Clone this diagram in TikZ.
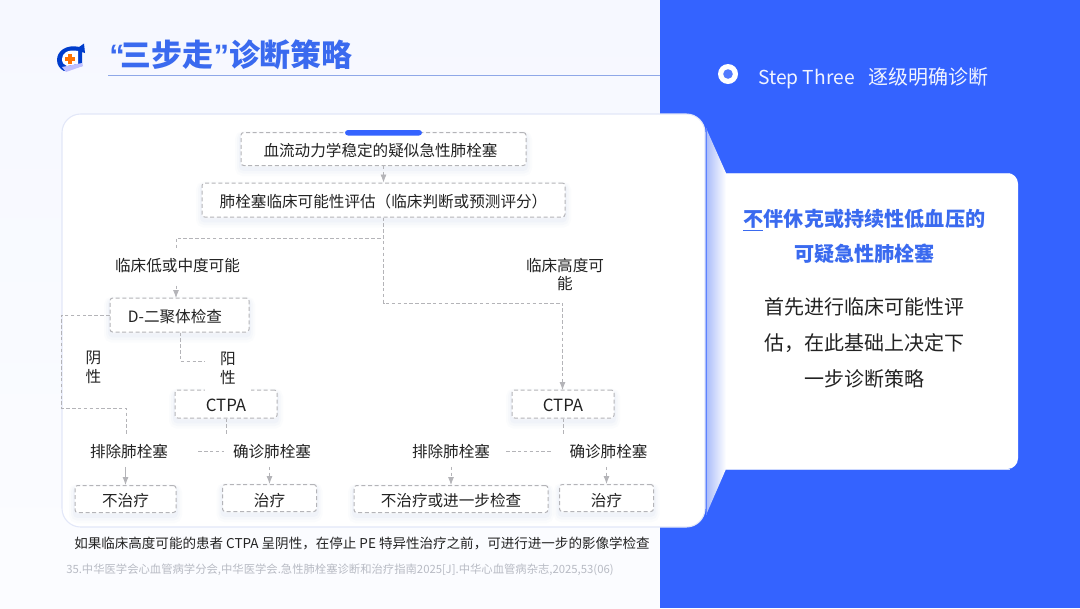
\documentclass[tikz,border=0pt]{standalone}
\usepackage{fontspec}
\setmainfont{Noto Sans CJK SC}
\newfontfamily\quotefont{Liberation Sans}
\usetikzlibrary{arrows.meta}
\definecolor{panelblue}{HTML}{3463FF}
\definecolor{titleblue}{HTML}{3A6AEF}
\definecolor{bgtint}{HTML}{F6F8FF}
\definecolor{cardedge}{HTML}{E2E7F8}
\definecolor{lineg}{HTML}{B4B4B8}
\definecolor{ink}{HTML}{222222}
\definecolor{shadowc}{HTML}{7088D0}
\definecolor{foldc}{HTML}{A9BBFA}
\definecolor{refg}{HTML}{B8BBC4}
\definecolor{rulec}{HTML}{8FA8E8}
\def\px{*0.75pt}
\tikzset{
  softshadow/.style={
    preaction={draw=shadowc,solid,line width=9pt,draw opacity=.025,transform canvas={yshift=-3.5pt}},
    preaction={draw=shadowc,solid,line width=6pt,draw opacity=.03,transform canvas={yshift=-3pt}},
    preaction={draw=shadowc,solid,line width=3pt,draw opacity=.04,transform canvas={yshift=-2.5pt}}},
  flowbox/.style={draw=lineg,fill=white,line width=.75pt,dash pattern=on 3pt off 2pt,rounded corners=2pt,
    inner sep=0pt,text=ink,font=\fontsize{11.7pt}{14pt}\selectfont,text height=10.5pt,text depth=0pt,softshadow},
  lowtext/.style={text height=12pt},
  flowlabel/.style={text=ink,font=\fontsize{11.7pt}{14.2pt}\selectfont,inner ysep=0pt,align=center},
  link/.style={draw=lineg,line width=.6pt,dash pattern=on 2.6pt off 1.8pt},
  linkarrow/.style={link,-{Latex[length=6pt,width=4.5pt,color=lineg]}},
  solidarrow/.style={draw=lineg,line width=.7pt,-{Latex[length=6pt,width=4.5pt,color=lineg]}},
}
\begin{document}
\begin{tikzpicture}[x=0.75pt,y=-0.75pt]
\useasboundingbox (0,0) rectangle (1080,608);
% background and panel
\shade[top color=bgtint,bottom color=white!60!bgtint] (0,0) rectangle (660,608);
\fill[panelblue] (660,0) rectangle (1080,608);
% logo
\fill[blue!70!cyan!80!black] (80,47) .. controls (66,44) and (57,51) .. (57,60) .. controls (57,65) and (60,69) .. (64,71) -- (82,66) -- (82,48) -- cycle;
\fill[blue!70!cyan!80!black] (75,50) -- (84,43.5) -- (85,53) -- cycle;
\fill[white] (78,51) .. controls (68,49) and (62,53) .. (62,59) .. controls (62,63) and (64,65) .. (67,66) -- (78,64) -- cycle;
\fill[orange!90!red] (68,54) rectangle (72,64);
\fill[orange!90!red] (65,57) rectangle (75,61);
\fill[blue!25!white] (62,67) -- (82,63) -- (83,66) -- (66,72) -- cycle;
% title
\node[anchor=west,inner sep=0pt,text=titleblue,font=\fontsize{23.2pt}{26pt}\selectfont\bfseries] (title) at (109,55) {{\quotefont “}\hspace{-3pt}三步走{\quotefont ”}诊断策略};
\draw[draw=rulec,line width=.6pt] (108,75) coordinate (ruleL) -- (660,75) coordinate (ruleR);
% step header
\fill[white] (728,74) circle (10);
\fill[panelblue!85!white] (728,74) circle (4.8);
\node[anchor=west,inner sep=0pt,text=white!93!panelblue,font=\fontsize{15pt}{18pt}\selectfont] (step) at (758,78) {{\fontsize{14.4pt}{18pt}\selectfont Step Three}\hspace{10.5pt}逐级明确诊断};
% main card
\filldraw[fill=white,draw=cardedge,line width=.8pt,rounded corners=14pt] (62,114) rectangle (705,527);
% fold
\shade[left color=foldc,middle color=foldc!65!white,right color=white] (706,128) -- (726,173) -- (726,469) -- (706,515) -- cycle;
\draw[panelblue!80!white,line width=.7pt] (706,128) -- (706,515);
% right card
\fill[white] (726,173) [rounded corners=8pt] -- (1018,173) -- (1018,469) [sharp corners] -- (726,469) -- cycle;
\draw[panelblue!25!white,line width=.6pt] (726,173) -- (1010,173);
\draw[panelblue!25!white,line width=.6pt] (726,469) -- (1010,469);
\node[inner sep=0pt,text=titleblue,font=\fontsize{15.1pt}{26.3pt}\selectfont\bfseries,align=center] (head) at (864.5,236) {不伴休克或持续性低血压的\\可疑急性肺栓塞};
\draw[titleblue,line width=.6pt] (743,230) coordinate (ulL) -- (763,230) coordinate (ulR);
\node[inner sep=0pt,text=ink,font=\fontsize{15pt}{27pt}\selectfont,align=center] (body) at (864.5,343) {首先进行临床可能性评\\估，在此基础上决定下\\一步诊断策略};
% boxes
\node[flowbox,minimum width=285\px,minimum height=33\px] (n1) at (383.5,149) {血流动力学稳定的疑似急性肺栓塞\hspace*{4.5pt}};
\node[flowbox,minimum width=363\px,minimum height=34\px] (n2) at (383.5,200) {肺栓塞临床可能性评估（临床判断或预测评分）};
\node[flowbox,minimum width=139\px,minimum height=34\px] (dd) at (179.5,315) {D-二聚体检查\hspace*{6.8pt}};
\node[flowbox,minimum width=102\px,minimum height=28\px] (ctpaL) at (226,404) {\fontsize{12.6pt}{14pt}\selectfont CTPA};
\node[flowbox,minimum width=102\px,minimum height=28\px] (ctpaR) at (563,404) {\fontsize{12.6pt}{14pt}\selectfont CTPA};
\node[flowbox,minimum width=101\px,minimum height=27\px] (noL) at (125.5,499) {不治疗};
\node[flowbox,lowtext,minimum width=94\px,minimum height=27\px] (txL) at (269.5,498) {治疗};
\node[flowbox,minimum width=194\px,minimum height=27\px] (noR) at (451,499) {不治疗或进一步检查};
\node[flowbox,lowtext,minimum width=94\px,minimum height=27\px] (txR) at (606.5,498) {治疗};
\fill[panelblue,rounded corners=2.2pt] (345,130) rectangle (422,135.5);
% outcome labels
\node[flowlabel,inner xsep=30\px,minimum height=30\px] (exL) at (129,451.5) {排除肺栓塞};
\node[flowlabel,inner xsep=9\px,minimum height=30\px] (cfL) at (272,451.5) {确诊肺栓塞};
\node[flowlabel,inner xsep=16\px,minimum height=30\px] (exR) at (451,451.5) {排除肺栓塞};
\node[flowlabel,inner xsep=17\px,minimum height=30\px] (cfR) at (608.5,451.5) {确诊肺栓塞};
% named bends
\coordinate (ddTop) at (176,298);
\coordinate (busL) at (176,238);
\coordinate (busR) at (383.5,303);
\coordinate (busRb) at (562.5,303);
\coordinate (ctpaRtop) at (562.5,390);
\coordinate (negA) at (61,315);
\coordinate (negB) at (61,408);
\coordinate (negC) at (126,408);
\coordinate (negD) at (126,436);
\coordinate (posA) at (180,361);
\coordinate (posB) at (226,361);
\coordinate (stubL) at (226,436);
\coordinate (stubR) at (563,436);
% connectors
\draw[linkarrow] (n1.south) -- (n2.north);
\draw[linkarrow] (n2.south) |- (busL) -- (ddTop);
\draw[linkarrow] (n2.south) -- (busR) -- (busRb) -- (ctpaRtop);
\draw[link] (dd.west) -- (negA) -- (negB) -- (negC) -- (negD);
\draw[link] (dd.south -| posA) -- (posA) -- (posB) -- (ctpaL.north);
\draw[link] (ctpaL.south) -- (stubL);
\draw[link] (ctpaR.south) -- (stubR);
\draw[link] (exL.east) -- (cfL.west);
\draw[link] (exR.east) -- (cfR.west);
\draw[solidarrow] (exL.south -| noL.north) -- (noL.north);
\draw[linkarrow] (cfL.south -| txL.north) -- (txL.north);
\draw[linkarrow] (exR.south -| noR.north) -- (noR.north);
\draw[linkarrow] (cfR.south -| txR.north) -- (txR.north);
% branch labels
\node[flowlabel,fill=white,inner xsep=2pt,minimum height=35\px] (lowlab) at (177.5,265.5) {临床低或中度可能};
\node[flowlabel,inner xsep=2pt] (highlab) at (565,274.5) {临床高度可\\能};
\node[flowlabel,inner xsep=2pt] (neglab) at (93.5,367) {阴\\性};
\node[flowlabel,fill=white,minimum width=46\px,minimum height=46\px] (poslab) at (228,368) {阳\\性};
% notes
\node[anchor=west,inner sep=0pt,text=ink,font=\fontsize{10.15pt}{13pt}\selectfont] (note) at (74,543) {如果临床高度可能的患者 CTPA 呈阴性，在停止 PE 特异性治疗之前，可进行进一步的影像学检查};
\node[anchor=west,inner sep=0pt,text=refg,font=\fontsize{8.5pt}{11pt}\selectfont] (ref) at (66,570) {35.中华医学会心血管病学分会,中华医学会.急性肺栓塞诊断和治疗指南2025[J].中华心血管病杂志,2025,53(06)};
\end{tikzpicture}
\end{document}
